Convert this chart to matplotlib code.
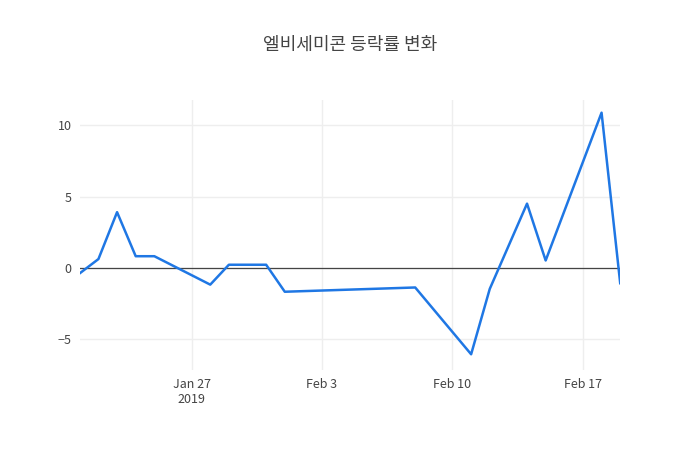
import pandas as pd
import matplotlib.pyplot as plt
import matplotlib.dates as mdates

plt.rcParams['font.family'] = ['Noto Sans CJK KR', 'DejaVu Sans']

dates = ['2019-01-21', '2019-01-22', '2019-01-23', '2019-01-24', '2019-01-25',
         '2019-01-28', '2019-01-29', '2019-01-30', '2019-01-31', '2019-02-01',
         '2019-02-08', '2019-02-11', '2019-02-12', '2019-02-14', '2019-02-15',
         '2019-02-18', '2019-02-19']
rates = [-0.4, 0.6, 3.9, 0.8, 0.8, -1.2, 0.2, 0.2, 0.2, -1.7,
         -1.4, -6.1, -1.5, 4.5, 0.5, 10.9, -1.1]
tick_dates = ['2019-01-27', '2019-02-03', '2019-02-10', '2019-02-17']
tick_labels = ['Jan 27\n2019', 'Feb 3', 'Feb 10', 'Feb 17']

x = pd.to_datetime(dates)
fig = plt.figure(figsize=(7, 4.5), dpi=100)
ax = fig.add_axes([0.114, 0.178, 0.772, 0.6])
ax.plot(x, rates, color='#1f77e4', lw=1.8, zorder=3)
ax.axhline(0, color='#444444', lw=0.9, zorder=2)

ax.set_xlim(x[0], x[-1])
ax.set_ylim(-7.2, 11.8)
ax.set_yticks([-5, 0, 5, 10])
ax.set_yticklabels(['−5', '0', '5', '10'])
ax.set_xticks(pd.to_datetime(tick_dates))
ax.set_xticklabels(tick_labels)
ax.grid(color='#eeeeee', lw=1)
ax.set_axisbelow(True)
for s in ax.spines.values():
    s.set_visible(False)
ax.tick_params(length=0, colors='#444444', labelsize=9, pad=6)

fig.text(0.5, 0.9, '엘비세미콘 등락률 변화', ha='center', va='center', fontsize=13, color='#444444')
fig.savefig('out.png', dpi=100)
